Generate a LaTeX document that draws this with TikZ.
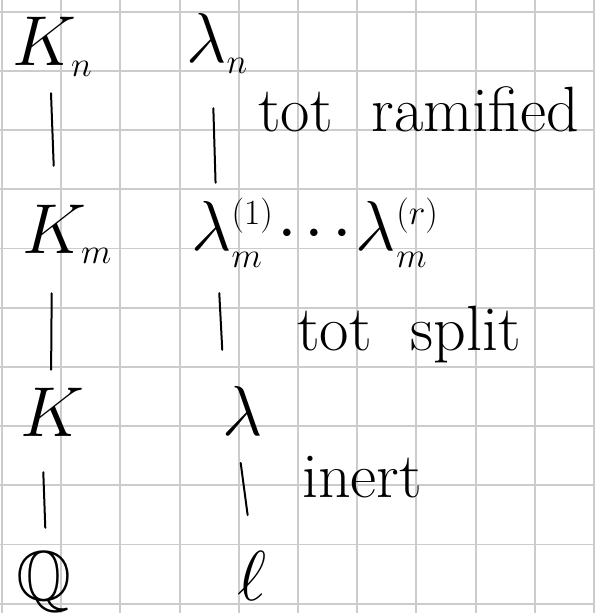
\RequirePackage{fix-cm}
\documentclass[tikz,border=0pt]{standalone}
\usepackage{amssymb}
% small handwritten-size indices
\newcommand{\ix}[1]{{\scriptscriptstyle #1}}
\begin{document}
\begin{tikzpicture}[x=0.75pt,y=-0.75pt,
  gridline/.style={draw=black!20, line width=1.4pt},
  sym/.style={inner sep=0pt, anchor=base west, font=\fontsize{53}{60}\selectfont,
    text height=39pt, text depth=0pt},
  note/.style={inner sep=0pt, anchor=base west, font=\fontsize{48}{54}\selectfont},
  link/.style={draw=black, line width=1.5pt, line cap=round}]
\useasboundingbox (0,0) rectangle (595,613);
\fill[white] (0,0) rectangle (595,613);
% squared paper
\foreach \i in {0,...,10}{
  \draw[gridline] ({2+59.2*\i},0) -- ({2+59.2*\i},613);
  \draw[gridline] (0,{11.7+59.2*\i}) -- (595,{11.7+59.2*\i});
}
% tower of fields
\node[sym] (Kn) at (12,66) {$K_{\ix{n}}$};
\node[sym] (Km) at (22,253) {$K_{\ix{m}}$};
\node[sym] (K) at (20,436) {$K$};
\node[sym] (Q) at (16,600) {$\mathbb{Q}$};
% primes lying above
\node[sym] (lm) at (191,250) {$\lambda_{\ix{m}}^{\ix{(1)}}\mkern1mu{\cdot}\mkern2mu{\cdot}\mkern2mu{\cdot}\mkern1mu\lambda_{\ix{m}}^{\ix{(r)}}$};
\node[sym] (ln) at (186,63) {$\lambda_{\ix{n}}$};
\node[sym] (l) at (222,435) {$\lambda$};
\node[sym] (ell) at (237,600) {$\ell$};
% behaviour of the primes
\node[note] (tr) at (258,132) {tot\hspace{0.6em}ramified};
\node[note] (ts) at (297,350) {tot\hspace{0.6em}split};
\node[note] (in) at (302,497) {inert};
% inclusions
\draw[link, shorten <=20.25pt, shorten >=26.25pt] (Kn.south -| 50,0) -- (Km.north -| 55,0);
\draw[link, shorten <=30pt, shorten >=10.5pt] (Km.south -| 52,0) -- (K.north -| 51,0);
\draw[link, shorten <=27pt, shorten >=15pt] (K.south -| 42,0) -- (Q.north -| 46,0);
\draw[link, shorten <=33.75pt, shorten >=11.25pt] (ln.south -| 212,0) -- (lm.north -| 216,0);
\draw[link, shorten <=32.25pt, shorten >=24.75pt] (lm.south -| 217,0) -- (l.north -| 224,0);
\draw[link, shorten <=21pt, shorten >=24.75pt] (l.south -| 237,0) -- (ell.north -| 252,0);
\end{tikzpicture}
\end{document}
